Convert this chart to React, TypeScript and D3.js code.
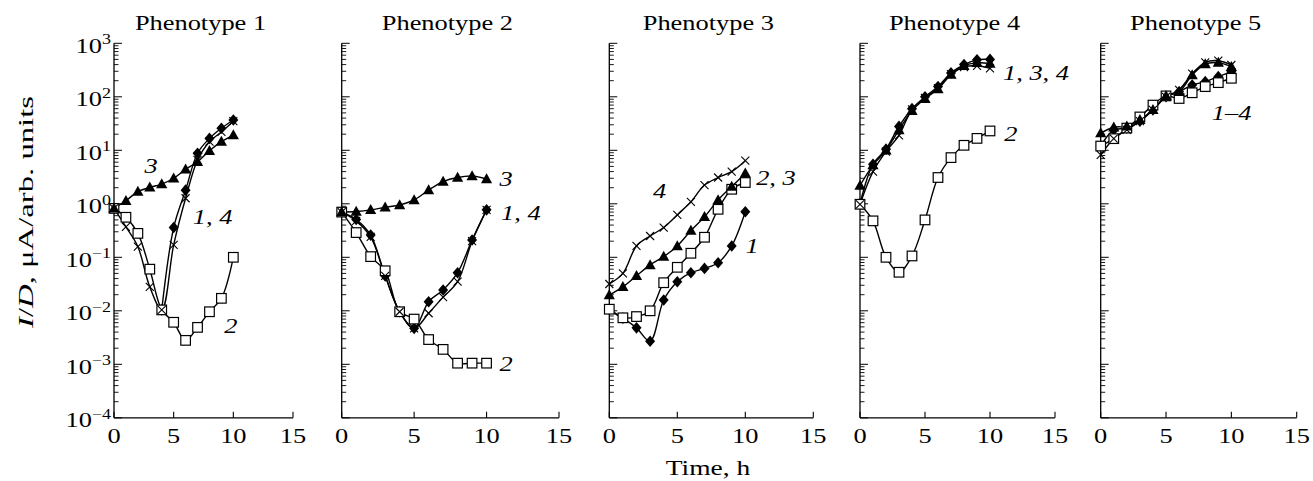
import React from 'react';
import * as d3 from 'd3';

const hours = [0, 1, 2, 3, 4, 5, 6, 7, 8, 9, 10];
const titles = ['Phenotype 1', 'Phenotype 2', 'Phenotype 3', 'Phenotype 4', 'Phenotype 5'];
const xTicks = [0, 5, 10, 15];
const yDecades = [-4, -3, -2, -1, 0, 1, 2, 3];

// curve 1 = filled diamonds, 2 = open squares, 3 = filled triangles, 4 = crosses
const ph1Curve1 = [0.82, null, null, null, 0.0104, 0.36, 1.8, 8.8, 16.7, 25.8, 36.8];
const ph1Curve2 = [0.82, 0.56, 0.28, 0.06, 0.0104, 0.0061, 0.0028, 0.0049, 0.0096, 0.0171, 0.1];
const ph1Curve3 = [0.82, 1.14, 1.69, 2.03, 2.34, 3.0, 4.4, 6.1, 9.8, 14.5, 19.3];
const ph1Curve4 = [0.82, 0.37, 0.158, 0.028, 0.0104, 0.17, 1.27, 6.6, 14.5, 22, 35];

const ph2Curve1 = [0.7, 0.51, 0.26, 0.045, 0.0096, 0.0047, 0.0148, 0.0245, 0.0515, 0.21, 0.77];
const ph2Curve2 = [0.7, 0.29, 0.103, 0.056, 0.0096, 0.007, 0.0029, 0.0019, 0.00105, 0.00105, 0.00105];
const ph2Curve3 = [0.7, 0.72, 0.77, 0.86, 0.95, 1.18, 1.81, 2.6, 3.1, 3.3, 2.9];
const ph2Curve4 = [0.7, 0.48, 0.24, 0.045, 0.0096, 0.0047, 0.009, 0.018, 0.035, 0.2, 0.77];

const ph3Curve1 = [0.0107, 0.0073, 0.0048, 0.0027, 0.0159, 0.035, 0.0515, 0.062, 0.079, 0.163, 0.71];
const ph3Curve2 = [0.0107, 0.0074, 0.0078, 0.01, 0.0335, 0.065, 0.119, 0.237, 0.79, 1.87, 2.5];
const ph3Curve3 = [0.0197, 0.028, 0.045, 0.072, 0.103, 0.163, 0.315, 0.57, 1.18, 2.1, 3.7];
const ph3Curve4 = [0.0317, 0.05, 0.163, 0.25, 0.36, 0.62, 1.09, 2.24, 3.1, 4.0, 6.4];

const ph4Curve1 = [1.0, 5.5, 10.5, 28, 60, 100, 155, 280, 400, 490, 500];
const ph4Curve2 = [0.98, 0.48, 0.1, 0.0525, 0.106, 0.5, 3.1, 7.3, 12.4, 16.7, 23];
const ph4Curve3 = [2.2, 5.3, 10, 24, 55, 92, 140, 260, 380, 430, 420];
const ph4Curve4 = [0.98, 4.0, 9.5, 19, 58, 95, 145, 265, 360, 380, 340];

const ph5Curve1 = [12, 24, 26, 35, 57, 100, 124, 166, 192, 238, 294];
const ph5Curve2 = [12, 16.5, 26, 42, 70, 104, 93, 119, 155, 184, 222];
const ph5Curve3 = [21, 27, 28, 37, 57, 104, 124, 255, 410, 435, 365];
const ph5Curve4 = [8.2, 16.5, 24, 35, 57, 100, 135, 270, 440, 473, 393];

// curve number labels, placed in data units (hours, value)
const ph1Notes = [
  { text: '3', t: 3.1, v: 3.77, anchor: 'middle' },
  { text: '1, 4', t: 6.6, v: 0.42, anchor: 'start' },
  { text: '2', t: 9.8, v: 0.0038, anchor: 'middle' },
];
const ph2Notes = [
  { text: '3', t: 10.9, v: 2.15, anchor: 'start' },
  { text: '1, 4', t: 11.0, v: 0.5, anchor: 'start' },
  { text: '2', t: 10.9, v: 0.00075, anchor: 'start' },
];
const ph3Notes = [
  { text: '4', t: 3.7, v: 1.28, anchor: 'middle' },
  { text: '2, 3', t: 10.8, v: 2.24, anchor: 'start' },
  { text: '1', t: 10.5, v: 0.12, anchor: 'middle' },
];
const ph4Notes = [
  { text: '1, 3, 4', t: 11.0, v: 206, anchor: 'start' },
  { text: '2', t: 11.1, v: 14.9, anchor: 'start' },
];
const ph5Notes = [
  { text: '1\u20134', t: 8.5, v: 36.8, anchor: 'start' },
];

const panelCurves = [
  [ph1Curve1, ph1Curve2, ph1Curve3, ph1Curve4],
  [ph2Curve1, ph2Curve2, ph2Curve3, ph2Curve4],
  [ph3Curve1, ph3Curve2, ph3Curve3, ph3Curve4],
  [ph4Curve1, ph4Curve2, ph4Curve3, ph4Curve4],
  [ph5Curve1, ph5Curve2, ph5Curve3, ph5Curve4],
];
const panelNotes = [ph1Notes, ph2Notes, ph3Notes, ph4Notes, ph5Notes];

// layout
const W = 1313;
const H = 481;
const panelLeft = [114, 341.7, 609.3, 860, 1100.7];
const panelRight = [293, 559, 813.3, 1055, 1296.7];
const yTop = 43.3;
const yBottom = 417.8;
const font = { fontFamily: 'Liberation Serif, serif' };
const SX = 1.2; // the original lettering is wider than Times

const y = d3.scaleLog().domain([1e-4, 1e3]).range([yBottom, yTop]);

const minorTicks: number[] = [];
for (let d = -4; d < 3; d++) {
  for (let k = 2; k <= 9; k++) minorTicks.push(k * Math.pow(10, d));
}

const superDigits = (e: number) => (e < 0 ? '\u2212' + Math.abs(e) : String(e));

function Marker({ kind, cx, cy }: { kind: number; cx: number; cy: number }) {
  if (kind === 0) {
    return <path d={`M${cx},${cy - 5.8}L${cx + 5},${cy}L${cx},${cy + 5.8}L${cx - 5},${cy}Z`} fill="#000" />;
  }
  if (kind === 1) {
    return <rect x={cx - 4.8} y={cy - 4.8} width={9.6} height={9.6} fill="#fff" stroke="#000" strokeWidth={1.2} />;
  }
  if (kind === 2) {
    return <path d={`M${cx},${cy - 5.8}L${cx + 5.6},${cy + 4.2}L${cx - 5.6},${cy + 4.2}Z`} fill="#000" />;
  }
  return (
    <path
      d={`M${cx - 4},${cy - 4}L${cx + 4},${cy + 4}M${cx - 4},${cy + 4}L${cx + 4},${cy - 4}`}
      stroke="#000"
      strokeWidth={1.1}
      fill="none"
    />
  );
}

function Panel({ idx }: { idx: number }) {
  const x = d3.scaleLinear().domain([0, 15]).range([panelLeft[idx], panelRight[idx]]);
  const curves = panelCurves[idx];
  const line = d3
    .line<number | null>()
    .defined((d) => d != null)
    .x((_, i) => x(hours[i]))
    .y((d) => y(d as number))
    .curve(d3.curveCatmullRom.alpha(0.5));
  const drawOrder = [0, 1, 2, 3];
  const cx = (panelLeft[idx] + panelRight[idx]) / 2 - 3;

  return (
    <g>
      <g transform={`translate(${cx},30) scale(${SX},1)`}>
        <text textAnchor="middle" fontSize={22} style={font}>{titles[idx]}</text>
      </g>
      {/* axes */}
      <line x1={x(0)} x2={x(0)} y1={yTop} y2={yBottom} stroke="#000" strokeWidth={1.3} />
      <line x1={x(0)} x2={x(15)} y1={yBottom} y2={yBottom} stroke="#000" strokeWidth={1.3} />
      {yDecades.map((d) => (
        <line key={'M' + d} x1={x(0)} x2={x(0) + 8} y1={y(Math.pow(10, d))} y2={y(Math.pow(10, d))} stroke="#000" strokeWidth={1} />
      ))}
      {minorTicks.map((v, i) => (
        <line key={'m' + i} x1={x(0)} x2={x(0) + 4.5} y1={y(v)} y2={y(v)} stroke="#000" strokeWidth={0.9} />
      ))}
      {xTicks.map((t) => (
        <g key={'x' + t}>
          <line x1={x(t)} x2={x(t)} y1={yBottom} y2={yBottom - 6} stroke="#000" strokeWidth={1.1} />
          <g transform={`translate(${x(t)},443) scale(${SX},1)`}>
            <text textAnchor="middle" fontSize={22} style={font}>{t}</text>
          </g>
        </g>
      ))}
      {idx === 0 &&
        yDecades.map((d) => (
          <g key={'yl' + d} transform={`translate(${x(0) - 3},${y(Math.pow(10, d)) + 9.5}) scale(${SX},1)`}>
            <text textAnchor="end" fontSize={22} style={font}>
              10<tspan dy={-8.5} fontSize={15}>{superDigits(d)}</tspan>
            </text>
          </g>
        ))}
      {/* curves */}
      {curves.map((c, i) => (
        <path key={'c' + i} d={line(c) || ''} fill="none" stroke="#000" strokeWidth={1.4} />
      ))}
      {drawOrder.map((k) =>
        curves[k].map((v, i) =>
          v == null ? null : <Marker key={`p${k}-${i}`} kind={k} cx={x(hours[i])} cy={y(v)} />
        )
      )}
      {panelNotes[idx].map((n, i) => (
        <g key={'n' + i} transform={`translate(${x(n.t)},${y(n.v)}) scale(${SX},1)`}>
          <text textAnchor={n.anchor as any} fontSize={22} fontStyle="italic" style={font}>{n.text}</text>
        </g>
      ))}
    </g>
  );
}

export default function App() {
  return (
    <svg width={W} height={H} style={{ position: 'absolute', left: 0, top: 0, background: '#fff' }}>
      {titles.map((_, i) => (
        <Panel key={i} idx={i} />
      ))}
      <g transform="translate(33,212) rotate(-90)">
        <text textAnchor="middle" fontSize={22} style={font} textLength={232} lengthAdjust="spacingAndGlyphs">
          <tspan fontStyle="italic">I</tspan>/<tspan fontStyle="italic">D</tspan>, μA/arb. units
        </text>
      </g>
      <g transform="translate(708,475) scale(1.25,1)">
        <text textAnchor="middle" fontSize={22} style={font}>Time, h</text>
      </g>
    </svg>
  );
}
